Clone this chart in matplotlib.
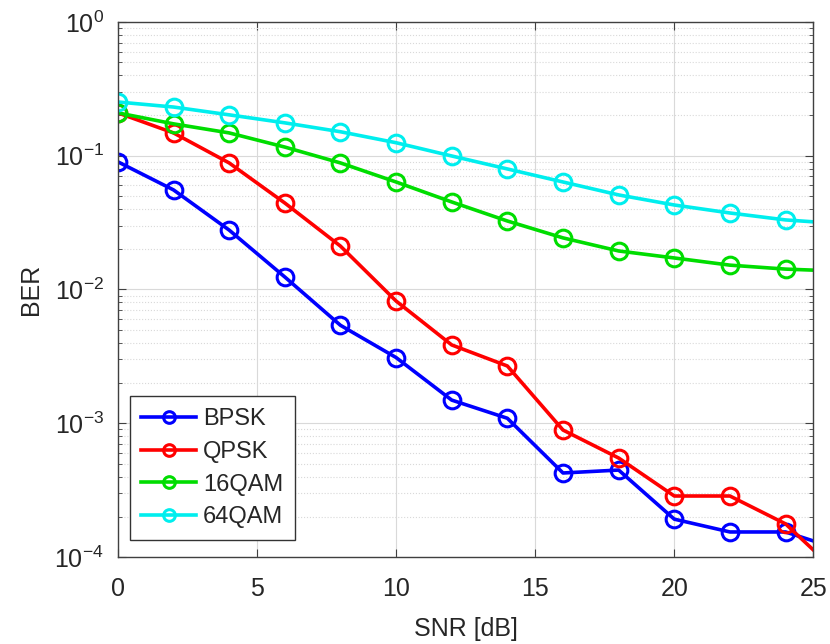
import matplotlib
matplotlib.use('Agg')
import matplotlib.pyplot as plt
import numpy as np
from matplotlib.ticker import LogLocator, NullFormatter

plt.rcParams['font.family'] = ['Liberation Sans', 'DejaVu Sans']
plt.rcParams['mathtext.fontset'] = 'custom'
plt.rcParams['mathtext.rm'] = 'Liberation Sans'
plt.rcParams['mathtext.it'] = 'Liberation Sans'
plt.rcParams['mathtext.default'] = 'regular'
plt.rcParams['axes.unicode_minus'] = False

# SNR grid and simulated bit error rates
snr = [0, 2, 4, 6, 8, 10, 12, 14, 16, 18, 20, 22, 24, 26]
ber_bpsk = [0.090, 0.0555, 0.0278, 0.0124, 0.0054, 0.0031, 0.00149, 0.00109,
            4.25e-4, 4.47e-4, 1.92e-4, 1.54e-4, 1.54e-4, 1.13e-4]
ber_qpsk = [0.209, 0.148, 0.0883, 0.0443, 0.0211, 0.0082, 0.00385, 0.00268,
            8.9e-4, 5.5e-4, 2.86e-4, 2.86e-4, 1.77e-4, 7.2e-5]
ber_16qam = [0.209, 0.173, 0.148, 0.116, 0.0883, 0.0636, 0.0451, 0.0325,
             0.0243, 0.0194, 0.0172, 0.0152, 0.0142, 0.0137]
ber_64qam = [0.252, 0.231, 0.202, 0.176, 0.151, 0.125, 0.0995, 0.0796,
             0.0636, 0.0509, 0.0428, 0.0373, 0.0331, 0.0310]

labels = ['BPSK', 'QPSK', '16QAM', '64QAM']
colors = ['#0000ff', '#ff0000', '#00dd00', '#00eeee']
series = [ber_bpsk, ber_qpsk, ber_16qam, ber_64qam]
yticks = [1e-4, 1e-3, 1e-2, 1e-1, 1e0]
ytick_labels = ['$10^{-4}$', '$10^{-3}$', '$10^{-2}$', '$10^{-1}$', '$10^{0}$']

txt = '#262626'
fig = plt.figure(figsize=(8.3, 6.44), dpi=100)
ax = fig.add_axes([0.142, 0.135, 0.838, 0.831])

for ber, lab, c in zip(series, labels, colors):
    ax.semilogy(snr, ber, '-o', color=c, lw=2.6, ms=12, mfc='none',
                mew=2.2, label=lab)

ax.set_xlim(0, 25)
ax.set_ylim(1e-4, 1)
ax.set_xticks([0, 5, 10, 15, 20, 25])
ax.set_yticks(yticks)
ax.set_yticklabels(ytick_labels)
ax.yaxis.set_minor_locator(LogLocator(base=10, subs=np.arange(2, 10), numticks=20))
ax.yaxis.set_minor_formatter(NullFormatter())

ax.grid(True, which='major', color='#d9d9d9', lw=0.8)
ax.grid(True, which='minor', axis='y', color='#d9d9d9', lw=0.8, ls=':')
ax.set_axisbelow(True)

ax.tick_params(which='both', direction='in', top=True, right=True,
               colors='#404040', labelcolor=txt, labelsize=18)
ax.tick_params(which='major', length=6)
ax.tick_params(which='minor', length=3)
ax.tick_params(axis='x', which='major', pad=14)
ax.tick_params(axis='y', which='major', pad=10)
for s in ax.spines.values():
    s.set_color('#404040')
    s.set_linewidth(1.0)

ax.set_xlabel('SNR [dB]', fontsize=18, color=txt, labelpad=12)
ax.set_ylabel('BER', fontsize=18, color=txt, labelpad=8)

leg = ax.legend(loc='lower left', bbox_to_anchor=(0.017, 0.032),
                fontsize=17, fancybox=False, framealpha=1,
                edgecolor='#333333', handlelength=2.3, handletextpad=0.3,
                borderpad=0.5, labelspacing=0.45, borderaxespad=0.0,
                markerscale=0.7)
leg.get_frame().set_linewidth(1.0)
for t in leg.get_texts():
    t.set_color(txt)

fig.savefig('out.png', dpi=100)
